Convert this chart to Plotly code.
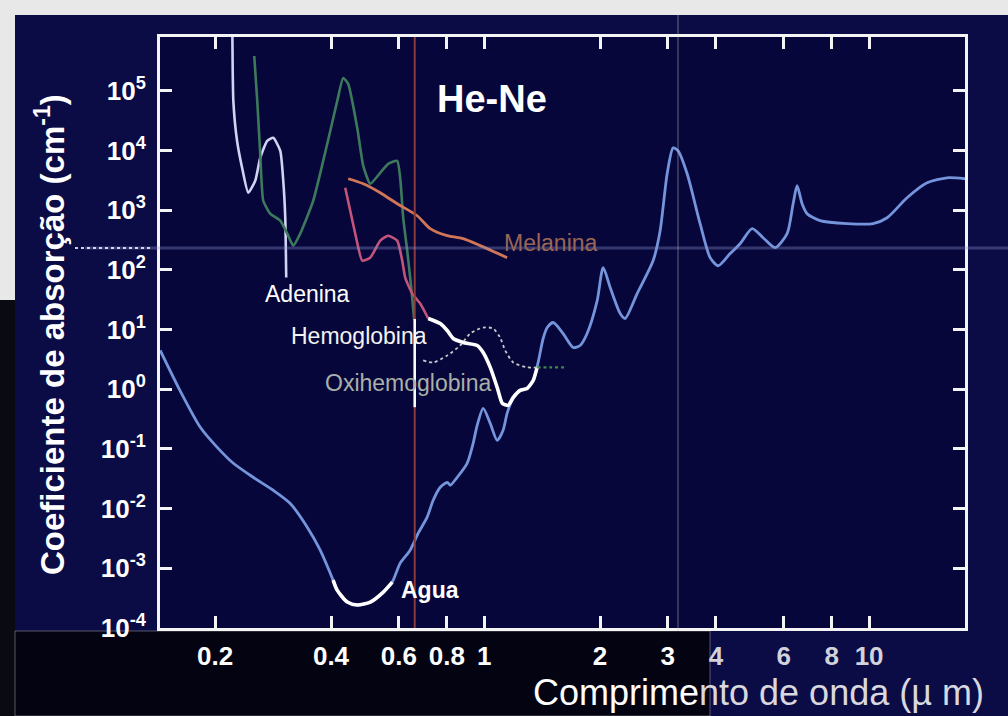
import numpy as np
import plotly.graph_objects as go

# Absorption spectra: wavelength (µm) vs absorption coefficient (cm^-1)
agua_um = [0.144, 0.162, 0.183, 0.2025, 0.223, 0.251, 0.283, 0.313, 0.347, 0.375,
           0.405, 0.415, 0.441, 0.468, 0.506, 0.547, 0.577, 0.605, 0.642, 0.674,
           0.711, 0.737, 0.769, 0.802, 0.816, 0.851, 0.903, 0.936, 0.959, 0.994,
           1.037, 1.081, 1.120, 1.147, 1.182, 1.240, 1.293, 1.341, 1.381, 1.423,
           1.458, 1.511, 1.604, 1.703, 1.775, 1.851, 1.966, 2.038, 2.125, 2.256,
           2.324, 2.497, 2.748, 2.865, 2.988, 3.097, 3.191, 3.368, 3.639, 3.864,
           4.054, 4.355, 4.623, 4.969, 5.305, 5.700, 6.124, 6.348, 6.501, 6.698,
           6.902, 7.459, 8.768, 10.24, 11.14, 12.55, 14.15, 15.94, 17.76]
agua_abs = [4.46, 0.955, 0.230, 0.106, 0.0574, 0.0335, 0.0203, 0.0123, 0.00489, 0.00201,
            6.35e-4, 4.31e-4, 2.72e-4, 2.43e-4, 2.72e-4, 4.0e-4, 5.87e-4, 1.22e-3, 2.01e-3, 3.88e-3,
            7.18e-3, 0.0138, 0.0228, 0.0276, 0.0246, 0.0335, 0.0574, 0.124, 0.248, 0.478,
            0.268, 0.139, 0.205, 0.394, 0.650, 0.955, 1.03, 1.40, 2.81, 7.07,
            10.8, 13.1, 8.57, 5.00, 5.40, 8.57, 30.5, 109, 50.4, 18.5,
            15.3, 40.0, 143, 453, 4060, 11040, 9840, 4060, 593, 160,
            117, 187, 274, 489, 345, 235, 403, 1279, 2559, 1279,
            871, 665, 593, 593, 746, 1611, 2871, 3483, 3350]

adenina_um = [0.2215, 0.223, 0.228, 0.235, 0.2438, 0.2542, 0.2619, 0.2731, 0.2831,
              0.2953, 0.3006, 0.3042, 0.3060]
adenina_abs = [2e6, 67500, 14500, 5120, 1955, 3100, 7520, 14500, 16250,
               9840, 3100, 746, 74.1]

verde_um = [0.2527, 0.2573, 0.2619, 0.2667, 0.278, 0.2953, 0.3079, 0.3191, 0.3327, 0.3596,
            0.3911, 0.4152, 0.4302, 0.4433, 0.4679, 0.4851, 0.5057, 0.537, 0.5631, 0.5943,
            0.605, 0.616, 0.631, 0.6423, 0.6501, 0.658]
verde_abs = [382000, 67500, 8770, 1435, 871, 665, 403, 254, 403, 1435,
             12900, 67500, 163700, 130000, 23900, 5520, 2763, 4220, 5970, 6700,
             3483, 746, 209, 74.1, 34.3, 14.2]

melanina_um = [0.4433, 0.4851, 0.537, 0.5943, 0.6698, 0.724, 0.8015, 0.882, 0.9763, 1.147]
melanina_abs = [3350, 2763, 1955, 1279, 805, 489, 373, 332, 254, 160]

hemo_um = [0.4355, 0.4487, 0.4624, 0.4821, 0.5057, 0.537, 0.5631, 0.5943, 0.6124, 0.6234,
           0.6501, 0.682, 0.7155, 0.7689, 0.8015, 0.8309, 0.882, 0.959, 0.994, 1.037,
           1.081, 1.114, 1.154, 1.190, 1.240, 1.293, 1.341, 1.373]
hemo_abs = [2371, 977, 403, 143, 160, 308, 373, 308, 143, 74.1,
            40.0, 27.2, 15.3, 12.6, 9.62, 7.07, 6.06, 5.40, 4.12, 2.32,
            1.07, 0.580, 0.536, 0.730, 0.955, 1.03, 1.40, 2.32]

oxi_um = [0.694, 0.737, 0.8015, 0.866, 0.920, 0.994, 1.055, 1.100, 1.134, 1.190,
          1.293, 1.373, 1.484, 1.643]
oxi_abs = [3.03, 2.81, 3.67, 5.40, 8.57, 10.8, 10.4, 7.35, 4.46, 2.81,
           2.32, 2.32, 2.32, 2.32]

hene_um = 0.66

x_ticks = [0.2, 0.4, 0.6, 0.8, 1, 2, 3, 4, 6, 8, 10]
x_labels = ["0.2", "0.4", "0.6", "0.8", "1", "2", "3", "4", "6", "8", "10"]
y_exps = [-4, -3, -2, -1, 0, 1, 2, 3, 4, 5]
y_ticks = [10.0 ** e for e in y_exps]
y_labels = [f"10<sup>{e}</sup>" for e in y_exps]

FONT = "Liberation Sans, Arial, sans-serif"
BLUE = "#7494dc"

# labels beyond the dark patch are printed slightly greyer
x_ticktext = [t if v < 4 else f"<span style='color:#d2d2da'>{t}</span>"
              for v, t in zip(x_ticks, x_labels)]

fig = go.Figure()


def curve(x, y, color, width=2.6, dash="solid", smooth=0.7):
    fig.add_trace(go.Scatter(
        x=x, y=y, mode="lines", hoverinfo="skip", showlegend=False,
        line=dict(color=color, width=width, dash=dash, shape="spline", smoothing=smooth)))


curve(agua_um, agua_abs, BLUE, 2.8)
curve(agua_um[10:17], agua_abs[10:17], "#ffffff", 3.6)
curve(adenina_um, adenina_abs, "#d2d2f2", 2.6, smooth=0.5)
curve(verde_um, verde_abs, "#3d7a5c", 2.6, smooth=0.5)
curve(melanina_um, melanina_abs, "#d27658", 2.8)
curve(hemo_um[:13], hemo_abs[:13], "#c2547a", 2.6, smooth=0.5)
curve(hemo_um[12:], hemo_abs[12:], "#ffffff", 3.6, smooth=0.5)
curve(oxi_um[:12], oxi_abs[:12], "#c8c8c8", 1.8, dash="dot")
curve(oxi_um[11:], oxi_abs[11:], "#3f8a4a", 2.2, dash="dot")


# paper-pixel helpers (plot area spans x 160..965, y 37..628 in a 1008x716 page)
def px(x):
    return (x - 160) / 805


def py(y):
    return (628 - y) / 591


shapes = [
    # scan border: light on top and upper left, dark lower left
    dict(type="rect", xref="paper", yref="paper", x0=px(0), x1=px(1008), y0=py(15), y1=py(0),
         fillcolor="#e8e8e8", line_width=0, layer="below"),
    dict(type="rect", xref="paper", yref="paper", x0=px(0), x1=px(15), y0=py(300), y1=py(0),
         fillcolor="#e8e8e8", line_width=0, layer="below"),
    dict(type="rect", xref="paper", yref="paper", x0=px(0), x1=px(15), y0=py(716), y1=py(300),
         fillcolor="#0a0a12", line_width=0, layer="below"),
    # dark label patch below the axis
    dict(type="rect", xref="paper", yref="paper", x0=px(15), x1=px(710), y0=py(716), y1=py(631),
         fillcolor="#030312", line=dict(color="rgba(170,170,170,0.5)", width=1), layer="below"),
    # He-Ne laser line
    dict(type="line", xref="x", yref="paper", x0=hene_um, x1=hene_um, y0=0, y1=1,
         line=dict(color="#8c3a3a", width=2)),
    dict(type="line", xref="x", yref="y", x0=hene_um, x1=hene_um, y0=0.5, y1=15,
         line=dict(color="#ffffff", width=2.5)),
    # faint scan lines
    dict(type="line", xref="paper", yref="paper", x0=px(85), x1=px(1008), y0=py(248), y1=py(248),
         line=dict(color="rgba(140,150,205,0.35)", width=3)),
    dict(type="line", xref="paper", yref="paper", x0=px(75), x1=px(150), y0=py(248), y1=py(248),
         line=dict(color="rgba(255,255,255,0.8)", width=2, dash="dot")),
    dict(type="line", xref="paper", yref="paper", x0=px(678), x1=px(678), y0=py(631), y1=py(15),
         line=dict(color="rgba(200,200,200,0.5)", width=1)),
]


def label(text, xum, yval, size, color, bold=False):
    return dict(text=text, x=np.log10(xum), y=np.log10(yval), xref="x", yref="y",
                showarrow=False, xanchor="center", yanchor="middle",
                font=dict(family=FONT, size=size, color=color,
                          weight="bold" if bold else "normal"))


annotations = [
    label("He-Ne", 1.049, 73000, 38, "#ffffff", bold=True),
    label("Adenina", 0.347, 40, 23, "#ffffff"),
    label("Hemoglobina", 0.473, 7.9, 23, "#f2f2f2"),
    label("Oxihemoglobina", 0.635, 1.25, 23, "#a9b0a9"),
    label("Melanina", 1.493, 285, 23, "#9a6656"),
    label("Agua", 0.724, 4.3e-4, 23, "#ffffff", bold=True),
    dict(text="Coeficiente de absorção (cm<sup>-1</sup>)", xref="paper", yref="paper",
         x=px(50), y=py(335), textangle=-90, showarrow=False,
         xanchor="center", yanchor="middle",
         font=dict(family=FONT, size=33, color="#ffffff", weight="bold")),
    dict(text="<span style='color:#ffffff'>Comprime</span>nto de onda (\u00b5 m)",
         xref="paper", yref="paper", x=px(986), y=py(692), showarrow=False,
         xanchor="right", yanchor="middle",
         font=dict(family=FONT, size=36, color="#d8d8de")),
]

axis_common = dict(
    type="log", showgrid=False, zeroline=False,
    showline=True, linewidth=3, linecolor="#f4f4f4", mirror="ticks",
    ticks="inside", ticklen=12, tickwidth=2.5, tickcolor="#f4f4f4",
)

fig.update_xaxes(range=[np.log10(0.1438), np.log10(17.75)],
                 tickvals=x_ticks, ticktext=x_ticktext, ticklabelstandoff=3,
                 tickfont=dict(family=FONT, size=26, color="#ffffff", weight="bold"),
                 **axis_common)
fig.update_yaxes(range=[-4, 5.9], tickvals=y_ticks, ticktext=y_labels,
                 ticklabelstandoff=6,
                 tickfont=dict(family=FONT, size=26, color="#ffffff", weight="bold"),
                 **axis_common)

fig.update_layout(
    width=1008, height=716,
    margin=dict(l=160, r=43, t=37, b=88),
    paper_bgcolor="#0b0b46",
    plot_bgcolor="#06063a",
    shapes=shapes,
    annotations=annotations,
    showlegend=False,
)

fig.write_html("out.html")
